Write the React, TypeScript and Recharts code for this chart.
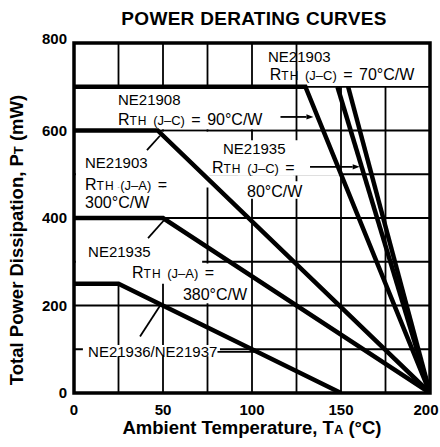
import React from 'react';
import {
  LineChart,
  Line,
  XAxis,
  YAxis,
  CartesianGrid,
  ReferenceArea,
  ReferenceLine,
  ReferenceDot,
} from 'recharts';

const FONT = '"Liberation Sans", Arial, Helvetica, sans-serif';

// ---- data ----
const xTicks = [0, 25, 50, 75, 100, 125, 150, 175, 200];
const xLabelTicks = [0, 50, 100, 150, 200];
const yTicks = [0, 100, 200, 300, 400, 500, 600, 700, 800];
const yLabelTicks = [0, 200, 400, 600, 800];

const ne21936Curve = [
  { t: 0, p: 250 },
  { t: 25, p: 250 },
  { t: 150, p: 0 },
];
const ne21935JaCurve = [
  { t: 0, p: 400 },
  { t: 50, p: 400 },
  { t: 200, p: 0 },
];
const ne21903JaCurve = [
  { t: 0, p: 600 },
  { t: 47, p: 600 },
  { t: 200, p: 0 },
];
const ne21908JcCurve = [
  { t: 0, p: 700 },
  { t: 130, p: 700 },
  { t: 200, p: 0 },
];
const ne21935JcCurve = [
  { t: 148, p: 700 },
  { t: 200, p: 0 },
];
const ne21903JcCurve = [
  { t: 154, p: 700 },
  { t: 200, p: 0 },
];

const curves = [ne21936Curve, ne21935JaCurve, ne21903JaCurve, ne21908JcCurve, ne21935JcCurve, ne21903JcCurve];

// annotation text, anchored at (temperature, power)
const notes = [
  { t: 109, p: 757, text: 'NE21903' },
  { t: 110, p: 715, text: 'RTH (J–C) = 70°C/W' },
  { t: 24.7, p: 658, text: 'NE21908' },
  { t: 24.7, p: 613, text: 'RTH (J–C) = 90°C/W' },
  { t: 6.2, p: 514, text: 'NE21903' },
  { t: 6.2, p: 464, text: 'RTH (J–A) =' },
  { t: 6.2, p: 423, text: '300°C/W' },
  { t: 83.7, p: 546, text: 'NE21935' },
  { t: 77.5, p: 503, text: 'RTH (J–C) =' },
  { t: 97.2, p: 448, text: '80°C/W' },
  { t: 7.9, p: 311, text: 'NE21935' },
  { t: 32.6, p: 263, text: 'RTH (J–A) =' },
  { t: 61.2, p: 213, text: '380°C/W' },
  { t: 7.9, p: 82, text: 'NE21936/NE21937' },
];

// white backgrounds behind annotations
const masks = [
  { x1: 126, x2: 199, y1: 702, y2: 798 },
  { x1: 1, x2: 124, y1: 603, y2: 697 },
  { x1: 1, x2: 76, y1: 470, y2: 597 },
  { x1: 10, x2: 60, y1: 403, y2: 470 },
  { x1: 75, x2: 149, y1: 497, y2: 578 },
  { x1: 92, x2: 123, y1: 458, y2: 497 },
  { x1: 92, x2: 131, y1: 444, y2: 484 },
  { x1: 1, x2: 72, y1: 250, y2: 397 },
  { x1: 72, x2: 98, y1: 205, y2: 296 },
  { x1: 5, x2: 82, y1: 84, y2: 110 },
];

const arrows = [
  { a: { x: 116, y: 631 }, b: { x: 134.5, y: 631 } },
  { a: { x: 132.6, y: 517 }, b: { x: 160.5, y: 517 } },
];
const leaders = [
  { a: { x: 41, y: 555 }, b: { x: 48.3, y: 588 } },
  { a: { x: 41.6, y: 354 }, b: { x: 50.8, y: 396 } },
  { a: { x: 37.1, y: 129 }, b: { x: 48.4, y: 200 } },
  { a: { x: 80.6, y: 94 }, b: { x: 103, y: 94 } },
];

const renderNoteText = (text: string) => (props: any) => {
  const vb = props.viewBox || {};
  const x = vb.x + (vb.width || 0) / 2;
  const y = vb.y + (vb.height || 0) / 2;
  const m = text.match(/^RTH (\(J–[AC]\))(.*)$/);
  const isValue = /°C\/W$/.test(text) && !m;
  return (
    <text
      x={x}
      y={y}
      fontFamily={FONT}
      fontSize={m || isValue ? 16 : 15}
      fill="#000"
      textAnchor="start"
      wordSpacing={m ? 2 : 0}
    >
      {m ? (
        <>
          <tspan>R</tspan>
          <tspan fontSize={12} letterSpacing={1}>TH</tspan>
          <tspan fontSize={13}> {m[1]}</tspan>
          <tspan>{m[2]}</tspan>
        </>
      ) : (
        text
      )}
    </text>
  );
};

const ArrowShape = (props: any) => {
  const { x1, y1, x2, y2 } = props;
  const ang = Math.atan2(y2 - y1, x2 - x1);
  const L = 7;
  const W = 2.6;
  const bx = x2 - L * Math.cos(ang);
  const by = y2 - L * Math.sin(ang);
  const nx = -Math.sin(ang);
  const ny = Math.cos(ang);
  return (
    <g>
      <line x1={x1} y1={y1} x2={bx} y2={by} stroke="#000" strokeWidth={1.8} />
      <polygon
        points={`${x2},${y2} ${bx + nx * W},${by + ny * W} ${bx - nx * W},${by - ny * W}`}
        fill="#000"
      />
    </g>
  );
};

const XTick = (props: any) => {
  const { x, y, payload } = props;
  const v = payload.value;
  if (!xLabelTicks.includes(v)) return null;
  return (
    <text
      x={x + (v === 200 ? -4 : 0)}
      y={y}
      dy="0.71em"
      textAnchor="middle"
      fontFamily={FONT}
      fontSize={15}
      fontWeight="bold"
      fill="#000"
    >
      {v}
    </text>
  );
};

const YTick = (props: any) => {
  const { x, y, payload } = props;
  const v = payload.value;
  if (!yLabelTicks.includes(v)) return null;
  return (
    <text
      x={x}
      y={y + (v === 800 ? -4 : 0)}
      dy="0.355em"
      textAnchor="end"
      fontFamily={FONT}
      fontSize={15}
      fontWeight="bold"
      fill="#000"
    >
      {v}
    </text>
  );
};

const XLabel = (props: any) => {
  const vb = props.viewBox || {};
  return (
    <text
      x={vb.x + vb.width / 2}
      y={vb.y + 41}
      textAnchor="middle"
      fontFamily={FONT}
      fontSize={18.5}
      fontWeight="bold"
      fill="#000"
    >
      Ambient Temperature, T<tspan fontSize={13}>A</tspan> (°C)
    </text>
  );
};

const YLabel = (props: any) => {
  const vb = props.viewBox || {};
  const cx = 23;
  const cy = vb.y + vb.height / 2 + 22;
  return (
    <text
      x={cx}
      y={cy}
      transform={`rotate(-90, ${cx}, ${cy})`}
      textAnchor="middle"
      fontFamily={FONT}
      fontSize={18.5}
      fontWeight="bold"
      fill="#000"
    >
      Total Power Dissipation, P<tspan fontSize={13}>T</tspan> (mW)
    </text>
  );
};

export default function App() {
  return (
    <div
      style={{
        position: 'absolute',
        left: 0,
        top: 0,
        width: 440,
        height: 447,
        background: '#fff',
      }}
    >
      <div
        style={{
          position: 'absolute',
          left: 0,
          top: 9,
          width: 508,
          textAlign: 'center',
          fontFamily: FONT,
          fontWeight: 'bold',
          fontSize: 19,
          lineHeight: '19px',
          letterSpacing: 0.3,
          color: '#000',
          whiteSpace: 'nowrap',
        }}
      >
        POWER DERATING CURVES
      </div>
      <LineChart width={440} height={447} margin={{ top: 43, right: 10, bottom: 0, left: 0 }}>
        <CartesianGrid stroke="#000" strokeWidth={1.8} />
        <XAxis
          dataKey="t"
          type="number"
          domain={[0, 200]}
          ticks={xTicks}
          interval={0}
          axisLine={false}
          tickLine={false}
          tickMargin={5}
          height={54}
          tick={XTick}
          label={XLabel}
          allowDataOverflow
        />
        <YAxis
          type="number"
          domain={[0, 800]}
          ticks={yTicks}
          interval={0}
          axisLine={false}
          tickLine={false}
          tickMargin={1}
          width={74}
          tick={YTick}
          label={YLabel}
          allowDataOverflow
        />
        {masks.map((m, i) => (
          <ReferenceArea
            key={`m${i}`}
            x1={m.x1}
            x2={m.x2}
            y1={m.y1}
            y2={m.y2}
            fill="#fff"
            fillOpacity={1}
            stroke="none"
          />
        ))}
        {curves.map((c, i) => (
          <Line
            key={`c${i}`}
            data={c}
            dataKey="p"
            type="linear"
            stroke="#000"
            strokeWidth={4.5}
            dot={false}
            activeDot={false}
            isAnimationActive={false}
          />
        ))}
        <ReferenceArea
          x1={0}
          x2={200}
          y1={0}
          y2={800}
          fill="none"
          stroke="#000"
          strokeWidth={3.5}
          ifOverflow="visible"
          zIndex={450}
        />
        {leaders.map((l, i) => (
          <ReferenceLine key={`l${i}`} segment={[l.a, l.b]} stroke="#000" strokeWidth={1.8} />
        ))}
        {arrows.map((l, i) => (
          <ReferenceLine key={`a${i}`} segment={[l.a, l.b]} shape={ArrowShape} />
        ))}
        {notes.map((n, i) => (
          <ReferenceDot
            key={`n${i}`}
            x={n.t}
            y={n.p}
            r={1}
            fill="none"
            stroke="none"
            label={renderNoteText(n.text)}
          />
        ))}
      </LineChart>
    </div>
  );
}
